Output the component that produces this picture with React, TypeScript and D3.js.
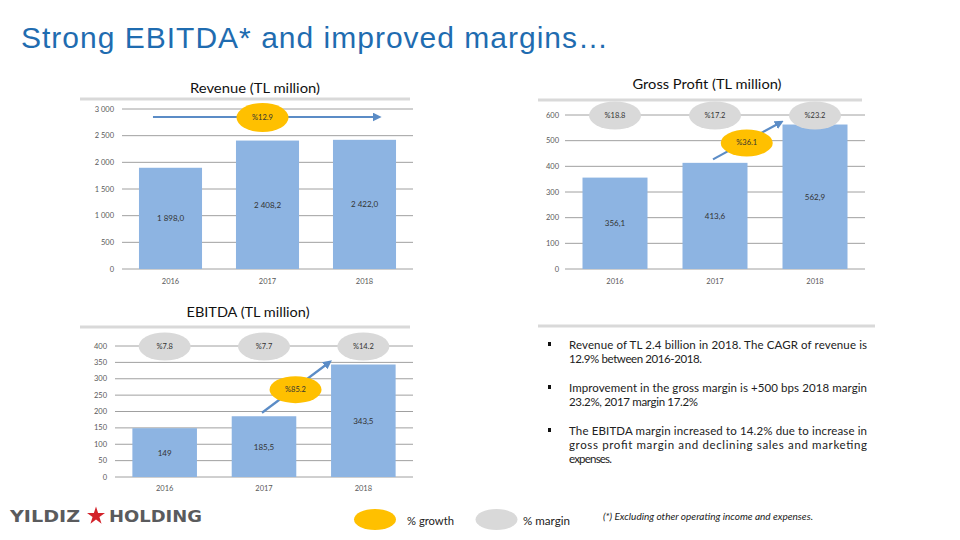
import React from 'react';
import * as d3 from 'd3';

const years = ['2016', '2017', '2018'];
const revenue = [1898.0, 2408.2, 2422.0];
const revenueTicks = [0, 500, 1000, 1500, 2000, 2500, 3000];
const revenueCagr = '%12.9';

const grossProfit = [356.1, 413.6, 562.9];
const grossProfitTicks = [0, 100, 200, 300, 400, 500, 600];
const grossMargin = ['%18.8', '%17.2', '%23.2'];
const grossGrowth = '%36.1';

const ebitda = [149, 185.5, 343.5];
const ebitdaTicks = [0, 50, 100, 150, 200, 250, 300, 350, 400];
const ebitdaMargin = ['%7.8', '%7.7', '%14.2'];
const ebitdaGrowth = '%85.2';

const bulletLines = [
  ['Revenue of TL 2.4 billion in 2018. The CAGR of revenue is', '12.9% between 2016-2018.'],
  ['Improvement in the gross margin is +500 bps 2018 margin', '23.2%, 2017 margin 17.2%'],
  ['The EBITDA margin increased to 14.2% due to increase in', 'gross profit margin and declining sales and marketing', 'expenses.'],
];

const BAR = '#8db4e2';
const YELLOW = '#ffc000';
const GREY = '#d9d9d9';
const ARROW = '#5b8cc6';
const FONT = 'Lato, "Open Sans", sans-serif';

const loc = d3.formatLocale({ decimal: ',', thousands: ' ', grouping: [3], currency: ['', ''] });
const fmtTick = loc.format(',');
const fmt1 = loc.format(',.1f');
const fmt1t = loc.format(',.1~f');

type Sc = { x: d3.ScaleBand<string>; y: d3.ScaleLinear<number, number> };

function Panel(props: {
  values: number[];
  ticks: number[];
  fmtValue: (v: number) => string;
  x0: number; x1: number; yBottom: number; yTop: number;
  tickX: number; yearY: number;
  annotate: (s: Sc) => React.ReactNode;
}) {
  const { values, ticks, fmtValue, x0, x1, yBottom, yTop, tickX, yearY, annotate } = props;
  const x = d3.scaleBand<string>().domain(years).range([x0, x1]).paddingInner(0.35).paddingOuter(0.175);
  const y = d3.scaleLinear().domain([0, d3.max(ticks) as number]).range([yBottom, yTop]);
  const bw = x.bandwidth();
  return (
    <g>
      {ticks.map((t) => (
        <g key={t}>
          <line x1={x0} x2={x1} y1={y(t)} y2={y(t)} stroke="#a0a0a0" strokeWidth={1} />
          <text x={tickX} y={y(t) + 2.5} textAnchor="end" fontSize={7.5} fill="#595959" fontFamily={FONT}>
            {fmtTick(t)}
          </text>
        </g>
      ))}
      {values.map((v, i) => (
        <rect key={i} x={x(years[i])} y={y(v)} width={bw} height={y(0) - y(v)} fill={BAR} />
      ))}
      {values.map((v, i) => (
        <text key={'l' + i} x={(x(years[i]) as number) + bw / 2} y={(y(v) + y(0)) / 2 + 3}
          textAnchor="middle" fontSize={8} fill="#333" fontFamily={FONT}>
          {fmtValue(v)}
        </text>
      ))}
      {years.map((yr) => (
        <text key={yr} x={(x(yr) as number) + bw / 2} y={yearY} textAnchor="middle" fontSize={7.5}
          fill="#595959" fontFamily={FONT}>{yr}</text>
      ))}
      {annotate({ x, y })}
    </g>
  );
}

function Bubble({ cx, cy, fill, label, rx = 26, ry = 14 }: { cx: number; cy: number; fill: string; label: string; rx?: number; ry?: number }) {
  return (
    <g>
      <ellipse cx={cx} cy={cy} rx={rx} ry={ry} fill={fill} />
      <text x={cx} y={cy + 2.5} textAnchor="middle" fontSize={7.5} fill="#333" fontFamily={FONT}>{label}</text>
    </g>
  );
}

function growthArrow({ x, y }: Sc, values: number[], label: string, margins: string[]) {
  const bw = x.bandwidth();
  const sx = (x('2017') as number) + bw / 2 - 2;
  const sy = y(values[1]) - 3.5;
  const ex = (x('2018') as number) - 2;
  const ey = y(values[2]) - 2;
  const topY = y(y.domain()[1]);
  return (
    <g>
      <line x1={sx} y1={sy} x2={ex} y2={ey} stroke={ARROW} strokeWidth={2.2} markerEnd="url(#arrowHead)" />
      {margins.map((m, i) => (
        <Bubble key={i} cx={(x(years[i]) as number) + bw / 2} cy={topY + 0.5} fill={GREY} label={m} />
      ))}
      <Bubble cx={(sx + ex) / 2} cy={(sy + ey) / 2 + 2} fill={YELLOW} label={label} ry={13.5} />
    </g>
  );
}

export default function App() {
  const star = d3.symbol(d3.symbolStar, 100)() as string;
  return (
    <svg width={960} height={540} style={{ position: 'absolute', left: 0, top: 0, background: '#fff' }}>
      <defs>
        <marker id="arrowHead" markerUnits="userSpaceOnUse" markerWidth={9} markerHeight={9}
          viewBox="0 0 10 10" refX={6} refY={5} orient="auto">
          <path d="M0,0 L10,5 L0,10 z" fill={ARROW} />
        </marker>
      </defs>
      <rect width={960} height={540} fill="#fff" />
      <text x={21} y={48} fontSize={30} fill="#1f6cb0" fontFamily='"Liberation Sans", Arial, sans-serif'
        textLength={587} lengthAdjust="spacing">Strong EBITDA* and improved margins…</text>

      {/* Revenue */}
      <text x={255} y={93} textAnchor="middle" fontSize={14} fontFamily={FONT} fill="#111" textLength={130}
        lengthAdjust="spacingAndGlyphs">Revenue (TL million)</text>
      <line x1={80} x2={410} y1={99} y2={99} stroke={GREY} strokeWidth={3} />
      <Panel values={revenue} ticks={revenueTicks} fmtValue={fmt1} x0={122} x1={413} yBottom={269} yTop={109}
        tickX={114} yearY={284}
        annotate={({ x, y }) => {
          const bw = x.bandwidth();
          const ly = y(3000) + 8;
          return (
            <g>
              <line x1={(x('2016') as number) + 14} x2={(x('2018') as number) + bw - 18} y1={ly} y2={ly}
                stroke={ARROW} strokeWidth={2.2} markerEnd="url(#arrowHead)" />
              <Bubble cx={(x('2017') as number) + bw / 2 - 5} cy={ly + 0.5} fill={YELLOW} label={revenueCagr} ry={14.5} />
            </g>
          );
        }} />

      {/* Gross Profit */}
      <text x={707} y={89} textAnchor="middle" fontSize={14} fontFamily={FONT} fill="#111" textLength={149}
        lengthAdjust="spacingAndGlyphs">Gross Profit (TL million)</text>
      <line x1={538} x2={862} y1={100} y2={100} stroke={GREY} strokeWidth={3} />
      <Panel values={grossProfit} ticks={grossProfitTicks} fmtValue={fmt1} x0={565} x1={865} yBottom={269} yTop={115}
        tickX={559} yearY={284}
        annotate={(s) => growthArrow(s, grossProfit, grossGrowth, grossMargin)} />

      {/* EBITDA */}
      <text x={248} y={317} textAnchor="middle" fontSize={14} fontFamily={FONT} fill="#111" textLength={123}
        lengthAdjust="spacingAndGlyphs">EBITDA (TL million)</text>
      <line x1={80} x2={410} y1={327} y2={327} stroke={GREY} strokeWidth={3} />
      <Panel values={ebitda} ticks={ebitdaTicks} fmtValue={fmt1t} x0={115} x1={413} yBottom={477} yTop={346}
        tickX={107} yearY={491}
        annotate={(s) => growthArrow(s, ebitda, ebitdaGrowth, ebitdaMargin)} />

      {/* Bullet text */}
      <line x1={538} x2={875} y1={326} y2={326} stroke={GREY} strokeWidth={3} />
      {bulletLines.map((lines, bi) => {
        const baseY = [349, 392, 435][bi];
        const lastWidths = [133, 129, 43];
        return (
          <g key={bi}>
            <rect x={548} y={baseY - 7} width={3} height={4} fill="#111" />
            {lines.map((ln, li) => {
              const last = li === lines.length - 1;
              return (
                <text key={li} x={569} y={baseY + li * 14.2} fontSize={11.5} fontFamily={FONT} fill="#222"
                  textLength={last ? lastWidths[bi] : 298} lengthAdjust="spacing">{ln}</text>
              );
            })}
          </g>
        );
      })}

      {/* Footer */}
      <text x={10} y={522} fontSize={16} fontWeight="bold" fill="#5a5b5d" fontFamily='"DejaVu Sans", sans-serif'
        textLength={70} lengthAdjust="spacingAndGlyphs">YILDIZ</text>
      <path d={star} transform="translate(96,516)" fill="#d3222a" />
      <text x={109} y={522} fontSize={16} fontWeight="bold" fill="#5a5b5d" fontFamily='"DejaVu Sans", sans-serif'
        textLength={93} lengthAdjust="spacingAndGlyphs">HOLDING</text>

      <ellipse cx={375} cy={519.5} rx={21} ry={10.5} fill={YELLOW} />
      <text x={407} y={525} fontSize={12} fontFamily={FONT} fill="#222" textLength={47} lengthAdjust="spacingAndGlyphs">% growth</text>
      <ellipse cx={496.5} cy={519.5} rx={21} ry={10.5} fill={GREY} />
      <text x={523} y={525} fontSize={12} fontFamily={FONT} fill="#222" textLength={47} lengthAdjust="spacingAndGlyphs">% margin</text>
      <text x={603} y={520} fontSize={9} fontStyle="italic" fontFamily={FONT} fill="#222" textLength={210}
        lengthAdjust="spacingAndGlyphs">(*) Excluding other operating income and expenses.</text>
    </svg>
  );
}
